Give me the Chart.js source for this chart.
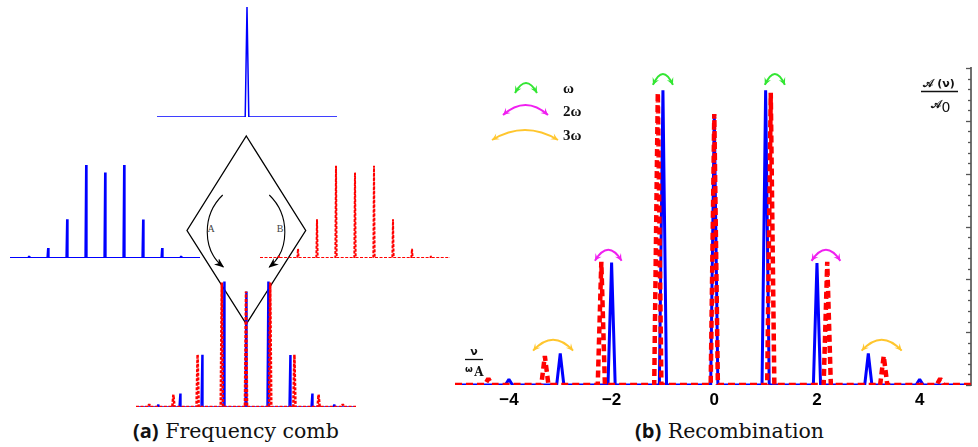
<!DOCTYPE html>
<html>
<head>
<meta charset="utf-8">
<script src="https://cdn.jsdelivr.net/npm/chart.js@4.4.1/dist/chart.umd.min.js"></script>
<style>
  body { margin: 0; background: #fff; }
  #wrap { position: relative; width: 978px; height: 447px; overflow: hidden; }
  #wrap canvas, #wrap svg { position: absolute; }
  .cap { position: absolute; top: 419px; line-height: 24px; white-space: nowrap;
         font-family: "DejaVu Serif", serif; font-size: 20.5px; color: #111; }
  .cap b { font-family: "Open Sans", sans-serif; font-weight: 700; font-size: 20px; }
</style>
</head>
<body>
<div id="wrap">
  <svg width="978" height="447" style="left:0;top:0">
    <defs>
      <marker id="ah" markerWidth="10" markerHeight="8" refX="9" refY="4" orient="auto" markerUnits="userSpaceOnUse">
        <path d="M0,0 L10,4 L0,8 L3,4 z" fill="#000"/>
      </marker>
    </defs>
    <polygon points="246.3,136 305.7,230.5 246.3,324 187,230.5" fill="none" stroke="#000" stroke-width="1.3"/>
    <path d="M222.7,195 C202,215 202,250 223.3,267" fill="none" stroke="#000" stroke-width="1.1" marker-end="url(#ah)"/>
    <path d="M269.3,195 C290,215 290,250 269.3,267" fill="none" stroke="#000" stroke-width="1.1" marker-end="url(#ah)"/>
    <text x="211" y="232" font-size="10" font-family="Liberation Serif" fill="#444" text-anchor="middle">A</text>
    <text x="280" y="232" font-size="10" font-family="Liberation Serif" fill="#444" text-anchor="middle">B</text>
  </svg>
  <canvas id="carrier" width="188" height="118" style="left:153px;top:3px"></canvas>
  <canvas id="combA" width="198" height="108" style="left:6px;top:154px"></canvas>
  <canvas id="combB" width="198" height="108" style="left:256px;top:154px"></canvas>
  <canvas id="mixed" width="228" height="143" style="left:132px;top:268px"></canvas>
  <canvas id="recomb" width="526" height="353" style="left:452px;top:62px"></canvas>
  <div class="cap" style="left:133px"><b>(a)</b> Frequency comb</div>
  <div class="cap" style="left:635px"><b>(b)</b> Recombination</div>
</div>
<script>
// spectrum data (units of the right-hand axis)
const harmonics = [-4, -3, -2, -1, 0, 1, 2, 3, 4];
const freqB = [-4.4, -3.3, -2.2, -1.1, 0, 1.1, 2.2, 3.3, 4.4];
const ampA = [0.11, 0.60, 2.32, 5.58, 5.13, 5.58, 2.31, 0.60, 0.11];
const ampB = [0.12, 0.55, 2.33, 5.53, 5.13, 5.53, 2.33, 0.55, 0.12];
const carrierFreq = [0];
const carrierAmp = [1];
const xTicks = [-4, -2, 0, 2, 4];

// harmonic-order arrows over the peaks (x centre, half span, base height)
const arrowOrder = [1, 1, 2, 2, 3, 3];
const arrowX = [-1.0, 1.18, -2.065, 2.175, -3.14, 3.26];
const arrowHalf = [0.195, 0.195, 0.26, 0.28, 0.39, 0.39];
const arrowBase = [5.68, 5.68, 2.35, 2.35, 0.65, 0.65];

const BLUE = '#0000ff';
const RED = '#ff0000';
const orderColors = { 1: '#33e633', 2: '#f020f0', 3: '#ffc62e' };

// each line is drawn as narrow peaks standing on a zero baseline
function spikes(freqs, amps, hw, lo, hi) {
  const pts = [{ x: lo, y: 0 }];
  freqs.forEach((f, i) => {
    pts.push({ x: f - hw, y: 0 }, { x: f, y: amps[i] }, { x: f + hw, y: 0 });
  });
  pts.push({ x: hi, y: 0 });
  return pts;
}

function lineSet(data, color, width, dash) {
  return {
    data: data, borderColor: color, borderWidth: width, borderDash: dash || [],
    pointRadius: 0, tension: 0, fill: false, borderJoinStyle: 'bevel'
  };
}

function mini(id, datasets, ymax) {
  return new Chart(document.getElementById(id), {
    type: 'line',
    data: { datasets: datasets },
    options: {
      responsive: false, animation: false, events: [],
      layout: { padding: 4 },
      plugins: { legend: { display: false }, tooltip: { enabled: false } },
      scales: {
        x: { type: 'linear', min: -5, max: 5, display: false },
        y: { min: 0, max: ymax, display: false }
      }
    }
  });
}

mini('carrier', [lineSet(spikes(carrierFreq, carrierAmp, 0.1, -5, 5), BLUE, 1.5)], 1);
mini('combA', [lineSet(spikes(harmonics, ampA, 0.035, -5, 5), BLUE, 2)], 6);
mini('combB', [lineSet(spikes(harmonics, ampB, 0.035, -5, 5), RED, 2, [3, 1.5])], 6);
mini('mixed', [
  lineSet(spikes(freqB, ampB, 0.05, -5, 5), RED, 2.5, [3, 1.5]),
  lineSet(spikes(harmonics, ampA, 0.04, -5, 5), BLUE, 1.6)
], 6);

function arrowHead(ctx, x, y, ang, color) {
  const L = 7, W = 3.5;
  ctx.save();
  ctx.translate(x, y);
  ctx.rotate(ang);
  ctx.fillStyle = color;
  ctx.beginPath();
  ctx.moveTo(0, 0);
  ctx.lineTo(-L, -W);
  ctx.lineTo(-L * 0.6, 0);
  ctx.lineTo(-L, W);
  ctx.closePath();
  ctx.fill();
  ctx.restore();
}

// double-headed arc, ends at (x0,yEnd) and (x1,yEnd), apex at yTop
function arc(ctx, x0, x1, yEnd, yTop, color) {
  const cx = (x0 + x1) / 2, cy = 2 * yTop - yEnd;
  ctx.save();
  ctx.strokeStyle = color;
  ctx.lineWidth = 2;
  ctx.beginPath();
  ctx.moveTo(x0, yEnd);
  ctx.quadraticCurveTo(cx, cy, x1, yEnd);
  ctx.stroke();
  ctx.restore();
  arrowHead(ctx, x0, yEnd, Math.atan2(yEnd - cy, x0 - cx), color);
  arrowHead(ctx, x1, yEnd, Math.atan2(yEnd - cy, x1 - cx), color);
}

const decorations = {
  id: 'decorations',
  afterDraw(chart) {
    const ctx = chart.ctx;
    const xs = chart.scales.x, ys = chart.scales.y;
    const area = chart.chartArea;

    // inward ticks on the right axis
    ctx.save();
    ctx.strokeStyle = '#555';
    ctx.lineWidth = 1.3;
    for (let i = 0; i <= 30; i++) {
      const py = Math.round(ys.getPixelForValue(i / 5)) + 0.5;
      const len = i % 5 === 0 ? 5 : 3;
      ctx.beginPath();
      ctx.moveTo(area.right, py);
      ctx.lineTo(area.right - len, py);
      ctx.stroke();
    }
    ctx.restore();

    // arrows over the sidebands
    arrowOrder.forEach((o, i) => {
      const x0 = xs.getPixelForValue(arrowX[i] - arrowHalf[i]);
      const x1 = xs.getPixelForValue(arrowX[i] + arrowHalf[i]);
      const yEnd = ys.getPixelForValue(arrowBase[i]);
      arc(ctx, x0, x1, yEnd, yEnd - 11, orderColors[o]);
    });

    // legend
    const legendRows = [[515, 537, 93, 83, 89, 'ω'], [503, 548, 115, 105, 112, '2ω'], [492, 558, 140, 130, 136, '3ω']];
    const ox = chart.canvas.offsetLeft, oy = chart.canvas.offsetTop;
    ctx.save();
    legendRows.forEach((r, i) => {
      arc(ctx, r[0] - ox, r[1] - ox, r[2] - oy, r[3] - oy, orderColors[i + 1]);
      ctx.fillStyle = '#111';
      ctx.font = 'bold 15px "Liberation Serif", serif';
      ctx.textBaseline = 'middle';
      ctx.fillText(r[5], 563 - ox, r[4] - oy);
    });

    // axis captions
    ctx.fillStyle = '#111';
    ctx.strokeStyle = '#111';
    ctx.lineWidth = 1.3;
    ctx.textAlign = 'center';
    ctx.font = 'bold 11px "DejaVu Sans", sans-serif';
    ctx.fillText('𝒜 (ν)', 939 - ox, 84 - oy);
    ctx.beginPath(); ctx.moveTo(921 - ox, 91.5 - oy); ctx.lineTo(958 - ox, 91.5 - oy); ctx.stroke();
    ctx.font = 'bold 11px "DejaVu Sans", sans-serif';
    ctx.fillText('𝒜', 936 - ox, 105 - oy);
    ctx.font = '14px "DejaVu Sans", sans-serif';
    ctx.fillText('0', 946 - ox, 108 - oy);

    ctx.font = 'bold 11px "DejaVu Sans", sans-serif';
    ctx.fillText('ν', 474 - ox, 352 - oy);
    ctx.beginPath(); ctx.moveTo(465 - ox, 359.5 - oy); ctx.lineTo(483 - ox, 359.5 - oy); ctx.stroke();
    ctx.font = 'bold 9px "DejaVu Sans", sans-serif';
    ctx.fillText('ω', 469 - ox, 370 - oy);
    ctx.font = 'bold 12px "DejaVu Serif", serif';
    ctx.fillText('A', 479 - ox, 373 - oy);
    ctx.restore();
  }
};

new Chart(document.getElementById('recomb'), {
  type: 'line',
  data: {
    datasets: [
      lineSet(spikes(freqB, ampB, 0.07, -5.05, 5), RED, 4.5, [7, 4]),
      lineSet(spikes(harmonics, ampA, 0.07, -5.05, 5), BLUE, 3)
    ]
  },
  options: {
    responsive: false, animation: false, events: [],
    layout: { padding: { left: 3, top: 6, right: 0, bottom: 0 } },
    plugins: { legend: { display: false }, tooltip: { enabled: false } },
    scales: {
      x: {
        type: 'linear', min: -5.05, max: 5,
        grid: { display: false, drawTicks: false },
        border: { display: false },
        afterBuildTicks: s => { s.ticks = xTicks.map(v => ({ value: v })); },
        afterFit: s => { s.height = 30; },
        ticks: {
          padding: 5, color: '#000',
          font: { family: '"Liberation Sans", Arial, sans-serif', weight: 'bold', size: 17 },
          callback: v => (v < 0 ? '\u2212' + Math.abs(v) : String(v))
        }
      },
      y: {
        position: 'right', min: 0, max: 6,
        ticks: { display: false },
        grid: { drawOnChartArea: false, drawTicks: false },
        border: { display: true, color: '#707070', width: 2 },
        afterFit: s => { s.width = 7; }
      }
    }
  },
  plugins: [decorations]
});
</script>
</body>
</html>
